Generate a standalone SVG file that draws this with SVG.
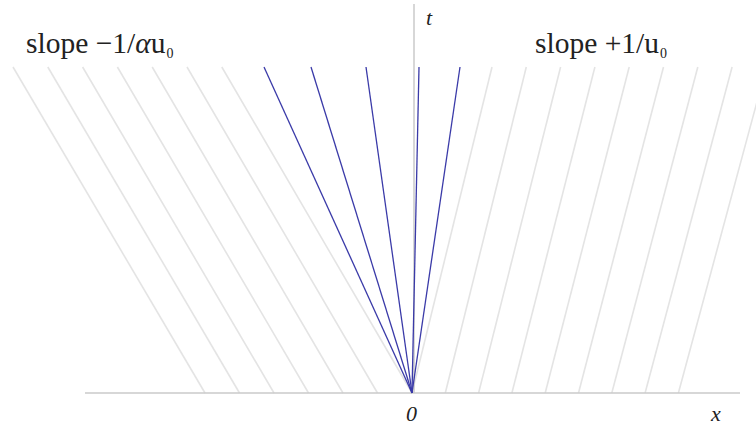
<svg xmlns="http://www.w3.org/2000/svg" width="756" height="428" viewBox="0 0 756 428">
<style>
.ax{stroke:#cacaca;stroke-width:1.5;fill:none}
.ch{stroke:#e4e4e4;stroke-width:1.6;fill:none}
.fan{stroke:#3a3aa8;stroke-width:1.3;fill:none}
.lbl{font-family:"Liberation Serif","DejaVu Serif",serif;font-size:29.5px;fill:#222}
.sub{font-size:14px}
.it{font-family:"Liberation Serif","DejaVu Serif",serif;font-style:italic;font-size:22px;fill:#222}
</style>
<rect width="756" height="428" fill="#fff"/>
<g id="connectors">
<g id="left-characteristics" class="ch">
<line x1="13" y1="67" x2="205" y2="393"/>
<line x1="47.8" y1="67" x2="239.5" y2="393"/>
<line x1="82.6" y1="67" x2="274" y2="393"/>
<line x1="117.4" y1="67" x2="308.5" y2="393"/>
<line x1="152.2" y1="67" x2="343" y2="393"/>
<line x1="187" y1="67" x2="377.5" y2="393"/>
<line x1="221.8" y1="67" x2="412" y2="393"/>
</g>
<g id="right-characteristics" class="ch">
<line x1="492" y1="67" x2="412" y2="393"/>
<line x1="526.3" y1="67" x2="445.3" y2="393"/>
<line x1="560.6" y1="67" x2="478.6" y2="393"/>
<line x1="594.9" y1="67" x2="511.9" y2="393"/>
<line x1="629.2" y1="67" x2="545.2" y2="393"/>
<line x1="663.5" y1="67" x2="578.5" y2="393"/>
<line x1="697.8" y1="67" x2="611.8" y2="393"/>
<line x1="732.1" y1="67" x2="645.1" y2="393"/>
<line x1="766.4" y1="67" x2="678.4" y2="393"/>
</g>
<g id="axes" class="ax">
<line x1="85" y1="393" x2="740" y2="393"/>
<line x1="414" y1="4" x2="414" y2="393"/>
</g>
<g id="fan" class="fan">
<line x1="412" y1="393" x2="264" y2="67"/>
<line x1="412" y1="393" x2="311" y2="67"/>
<line x1="412" y1="393" x2="366" y2="67"/>
<line x1="412" y1="393" x2="419" y2="67"/>
<line x1="412" y1="393" x2="460" y2="67"/>
</g>
</g>
<g id="label-left">
<text class="lbl" x="26" y="53">slope −1/<tspan font-style="italic">α</tspan>u<tspan class="sub" dx="1" dy="5">0</tspan></text>
</g>
<g id="label-right">
<text class="lbl" x="535" y="53">slope +1/u<tspan class="sub" dx="1" dy="5">0</tspan></text>
</g>
<g id="label-t"><text class="it" x="426" y="25">t</text></g>
<g id="label-origin"><text class="it" x="406" y="421">0</text></g>
<g id="label-x"><text class="it" x="711" y="421">x</text></g>
</svg>
